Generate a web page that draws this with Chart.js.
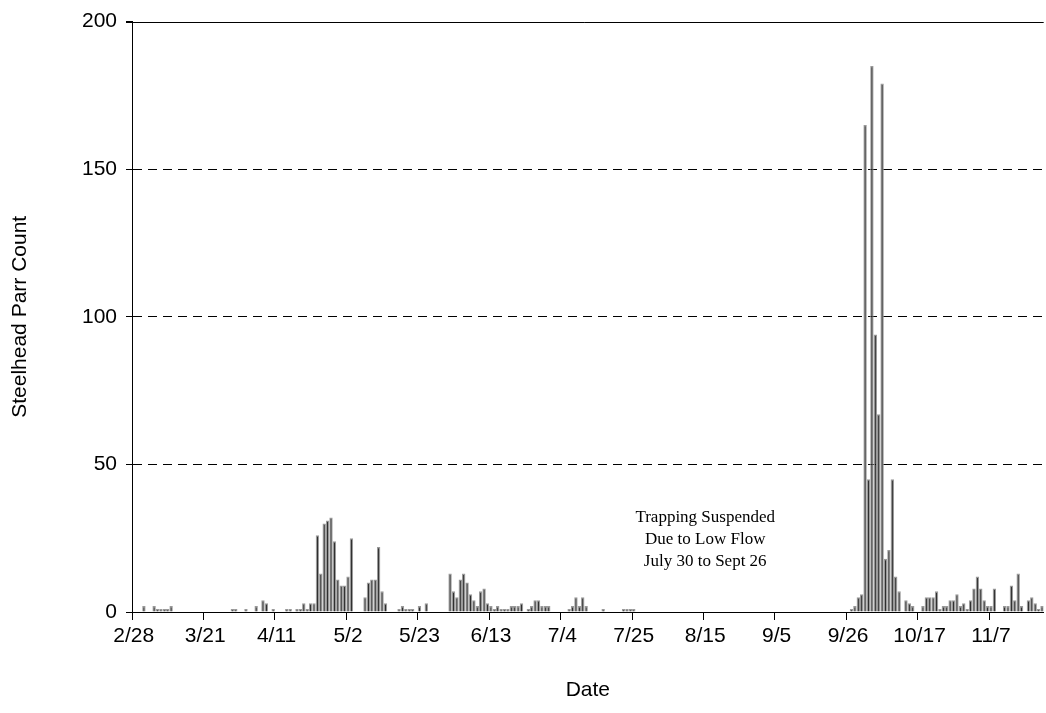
<!DOCTYPE html>
<html>
<head>
<meta charset="utf-8">
<title>Steelhead Parr Count</title>
<script src="https://cdn.jsdelivr.net/npm/chart.js@4.4.0/dist/chart.umd.min.js"></script>
<style>
  html, body { margin: 0; padding: 0; background: #fff; }
  #wrap { width: 1046px; height: 713px; }
</style>
</head>
<body>
<div id="wrap"><canvas id="parrChart" width="1046" height="713"></canvas></div>
<script>
// Daily counts, one per day starting 2/28
const START_MONTH = 2;
const START_DAY = 28;
const MONTH_LENGTHS = [31, 28, 31, 30, 31, 30, 31, 31, 30, 31, 30, 31];

const PARR_COUNT = [
  0, 0, 0, 2, 0, 0, 2, 1, 1, 1,
  1, 2, 0, 0, 0, 0, 0, 0, 0, 0,
  0, 0, 0, 0, 0, 0, 0, 0, 0, 1,
  1, 0, 0, 1, 0, 0, 2, 0, 4, 3,
  0, 1, 0, 0, 0, 1, 1, 0, 1, 1,
  3, 1, 3, 3, 26, 13, 30, 31, 32, 24,
  11, 9, 9, 12, 25, 0, 0, 0, 5, 10,
  11, 11, 22, 7, 3, 0, 0, 0, 1, 2,
  1, 1, 1, 0, 2, 0, 3, 0, 0, 0,
  0, 0, 0, 13, 7, 5, 11, 13, 10, 6,
  4, 2, 7, 8, 3, 2, 1, 2, 1, 1,
  1, 2, 2, 2, 3, 0, 1, 2, 4, 4,
  2, 2, 2, 0, 0, 0, 0, 0, 1, 2,
  5, 2, 5, 2, 0, 0, 0, 0, 1, 0,
  0, 0, 0, 0, 1, 1, 1, 1, 0, 0,
  // trapping suspended July 30 to Sept 26
  0, 0, 0, 0, 0, 0, 0, 0, 0, 0,
  0, 0, 0, 0, 0, 0, 0, 0, 0, 0,
  0, 0, 0, 0, 0, 0, 0, 0, 0, 0,
  0, 0, 0, 0, 0, 0, 0, 0, 0, 0,
  0, 0, 0, 0, 0, 0, 0, 0, 0, 0,
  0, 0, 0, 0, 0, 0, 0, 0, 0, 0,
  0, 1, 2, 5, 6, 165, 45, 185, 94, 67,
  179, 18, 21, 45, 12, 7, 0, 4, 3, 2,
  0, 0, 2, 5, 5, 5, 7, 1, 2, 2,
  4, 4, 6, 2, 3, 1, 4, 8, 12, 8,
  4, 2, 2, 8, 0, 0, 2, 2, 9, 4,
  13, 2, 0, 4, 5, 3, 1, 2
];

const TICK_LABELS = ['2/28', '3/21', '4/11', '5/2', '5/23', '6/13', '7/4',
                     '7/25', '8/15', '9/5', '9/26', '10/17', '11/7'];
const Y_TICKS = [0, 50, 100, 150, 200];
const NOTE_LINES = ['Trapping Suspended', 'Due to Low Flow', 'July 30 to Sept 26'];
const NOTE_AT_DAY = '8/15';
const NOTE_AT_VALUE = 32;

// build the day labels (m/d) for every bar
const DAYS = [];
let m = START_MONTH, d = START_DAY;
for (let i = 0; i < PARR_COUNT.length; i++) {
    DAYS.push(m + '/' + d);
    d++;
    if (d > MONTH_LENGTHS[m - 1]) { d = 1; m++; }
}

const SANS = "'Liberation Sans', Arial, sans-serif";
const SERIF = "'Liberation Serif', 'Times New Roman', serif";
const Y_MAX = Y_TICKS[Y_TICKS.length - 1];

// solid frame line along the top + the text note
const extras = {
    id: 'extras',
    afterDraw(chart) {
        const {ctx, chartArea, scales} = chart;
        ctx.save();
        ctx.strokeStyle = '#000';
        ctx.lineWidth = 1;
        const top = Math.round(scales.y.getPixelForValue(Y_MAX)) + 0.5;
        ctx.beginPath();
        ctx.moveTo(chartArea.left - 6, top);
        ctx.lineTo(chartArea.right, top);
        ctx.stroke();

        const nx = scales.x.getPixelForValue(DAYS.indexOf(NOTE_AT_DAY));
        const ny = scales.y.getPixelForValue(NOTE_AT_VALUE);
        ctx.fillStyle = '#000';
        ctx.font = '17px ' + SERIF;
        ctx.textAlign = 'center';
        ctx.textBaseline = 'middle';
        NOTE_LINES.forEach((line, i) => ctx.fillText(line, nx, ny + i * 22));
        ctx.restore();
    }
};

const ctx = document.getElementById('parrChart').getContext('2d');
new Chart(ctx, {
    type: 'bar',
    data: {
        labels: DAYS,
        datasets: [{
            label: 'Steelhead Parr',
            data: PARR_COUNT,
            backgroundColor: '#000',
            borderColor: '#9a9a9a',
            borderWidth: 1.3,
            inflateAmount: 0,
            categoryPercentage: 1,
            barPercentage: 1
        }]
    },
    options: {
        responsive: false,
        animation: false,
        layout: { padding: { top: 16, right: 0, left: 0, bottom: 0 } },
        plugins: {
            legend: { display: false },
            tooltip: { enabled: false }
        },
        scales: {
            x: {
                afterFit(scale) { scale.height = 101; },
                grid: {
                    offset: true,
                    drawOnChartArea: false,
                    tickLength: 8,
                    color: '#000',
                    tickColor: c => (TICK_LABELS.includes(DAYS[c.index]) ? '#000' : 'rgba(0,0,0,0)')
                },
                border: { color: '#000', width: 1 },
                ticks: {
                    autoSkip: false,
                    maxRotation: 0,
                    minRotation: 0,
                    padding: 4,
                    color: '#000',
                    font: { family: SANS, size: 21 },
                    callback(value, index) {
                        return TICK_LABELS.includes(DAYS[index]) ? DAYS[index] : '';
                    }
                },
                title: {
                    display: true,
                    text: 'Date',
                    color: '#000',
                    font: { family: SANS, size: 21 },
                    padding: { top: 0, bottom: 10 }
                }
            },
            y: {
                min: 0,
                max: Y_MAX,
                afterFit(scale) { scale.width = 132; },
                afterBuildTicks(scale) { scale.ticks = Y_TICKS.map(v => ({ value: v })); },
                grid: {
                    // top line is drawn solid by the plugin
                    color: c => (c.tick && c.tick.value === Y_MAX ? 'rgba(0,0,0,0)' : '#000'),
                    lineWidth: 1,
                    tickLength: 6,
                    tickColor: '#000'
                },
                border: { color: '#000', width: 1, dash: [9, 6] },
                ticks: {
                    padding: 9,
                    color: '#000',
                    font: { family: SANS, size: 21 }
                },
                title: {
                    display: true,
                    text: 'Steelhead Parr Count',
                    color: '#000',
                    font: { family: SANS, size: 21 },
                    padding: { top: 8, bottom: 0 }
                }
            }
        }
    },
    plugins: [extras]
});
</script>
</body>
</html>
